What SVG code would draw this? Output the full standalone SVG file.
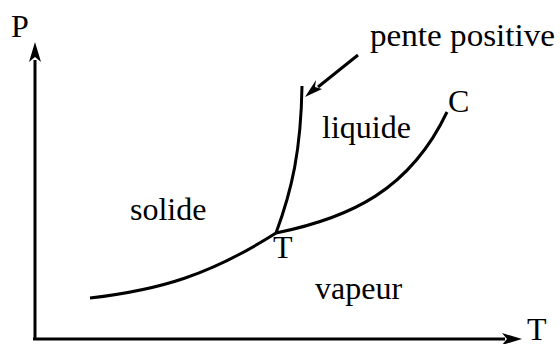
<svg xmlns="http://www.w3.org/2000/svg" width="560" height="344" viewBox="0 0 560 344">
<rect width="560" height="344" fill="#fff"/>
<g id="labels" fill="#000">
<text x="11" y="37" font-family="Liberation Serif" font-size="32">P</text>
<text x="527" y="340" font-family="Liberation Serif" font-size="32">T</text>
<text x="370" y="46" font-family="Liberation Serif" font-size="32" textLength="185" lengthAdjust="spacingAndGlyphs">pente positive</text>
<text x="322" y="138" font-family="Liberation Serif" font-size="32">liquide</text>
<text x="448" y="112" font-family="Liberation Serif" font-size="32">C</text>
<text x="130" y="220" font-family="Liberation Serif" font-size="32">solide</text>
<text x="273" y="258" font-family="Liberation Serif" font-size="32">T</text>
<text x="315" y="299" font-family="Liberation Serif" font-size="32">vapeur</text>
</g>
<g id="axes" fill="none" stroke="#000" stroke-width="3">
<line x1="35" y1="340" x2="35" y2="60"/>
<path d="M35,42 L41,62 L35,57 L29,62 Z" fill="#000" stroke="none"/>
<line x1="33" y1="339" x2="505" y2="339"/>
<path d="M522,339 L502,345 L507,339 L502,333 Z" fill="#000" stroke="none"/>
</g>
<g id="connectors" fill="none" stroke="#000" stroke-width="3">
<path id="sublimation" d="M90,298 C160,290 210,275 276,233"/>
<path id="vaporisation" d="M276,233 C350,218 410,190 447,112"/>
<path id="fusion" d="M276,233 C292,190 301,150 302,86"/>
<line id="pointer" x1="358" y1="55" x2="318" y2="87"/>
<path d="M305,97 L316,80 L315,87 L322,89 Z" fill="#000" stroke="none"/>
</g>
</svg>
